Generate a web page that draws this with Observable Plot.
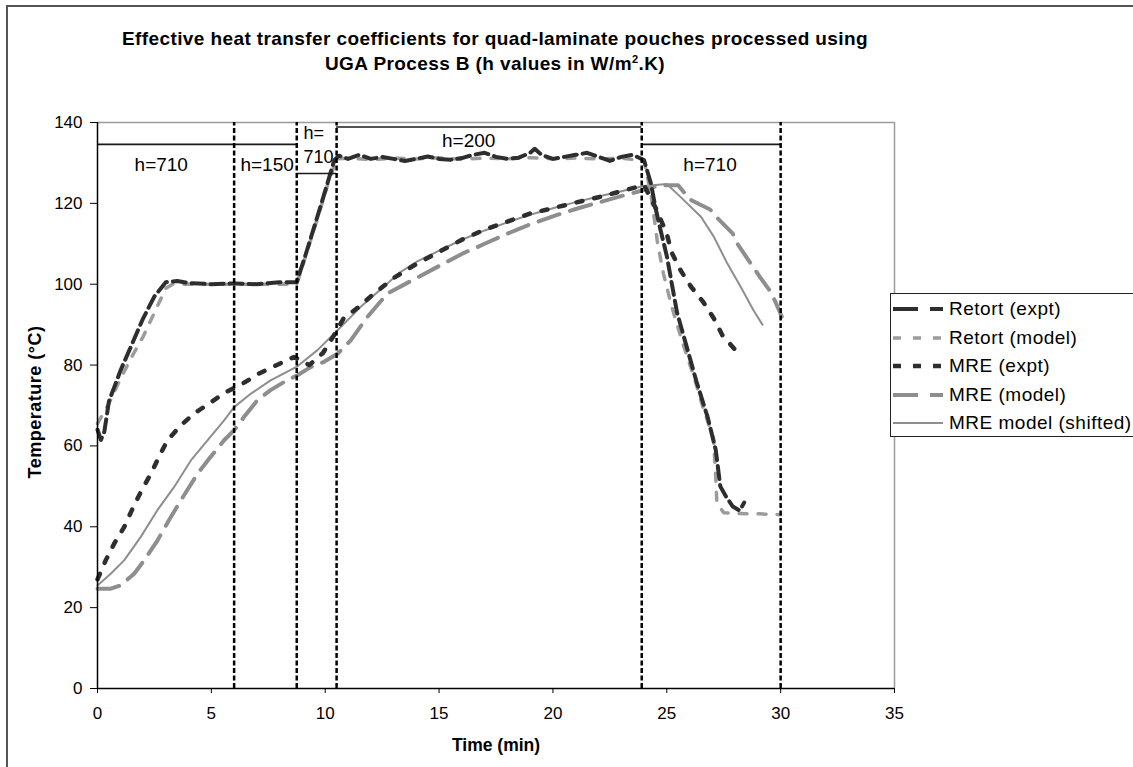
<!DOCTYPE html>
<html><head><meta charset="utf-8">
<script src="https://cdn.jsdelivr.net/npm/d3@7"></script>
<script src="https://cdn.jsdelivr.net/npm/@observablehq/plot@0.6"></script>
<style>
body{margin:0;background:#fff;font-family:"Liberation Sans",Arial,sans-serif;color:#000;}
#wrap{position:relative;width:1133px;height:767px;overflow:hidden;background:#fff;}
#frame{position:absolute;left:6px;top:5px;width:1200px;height:800px;border-left:2px solid #555;border-top:2px solid #555;}
#chart{position:absolute;left:0;top:0;}
#title{position:absolute;left:0;top:26px;width:990px;text-align:center;font-weight:bold;font-size:19px;letter-spacing:0.4px;line-height:25px;}
#title sup{font-size:11px;vertical-align:7px;line-height:0;}
#ytitle{position:absolute;left:35px;top:402px;transform:translate(-50%,-50%) rotate(-90deg);font-weight:bold;font-size:18px;letter-spacing:0.5px;white-space:nowrap;}
#xtitle{position:absolute;left:496px;top:745px;transform:translate(-50%,-50%);font-weight:bold;font-size:17.5px;white-space:nowrap;}
#legend{position:absolute;left:890px;top:293px;width:260px;height:144px;border:1.5px solid #222;background:#fff;box-sizing:border-box;padding-top:1px;}
.row{height:28.5px;display:flex;align-items:center;font-size:19px;letter-spacing:0.5px;white-space:nowrap;}
.row svg{margin-left:2px;margin-right:6px;flex:none;}
</style></head>
<body>
<div id="wrap">
  <div id="frame"></div>
  <div id="chart"></div>
  <div id="title">Effective heat transfer coefficients for quad-laminate pouches processed using<br>UGA Process B (h values in W/m<sup>2</sup>.K)</div>
  <div id="ytitle">Temperature (°C)</div>
  <div id="xtitle">Time (min)</div>
  <div id="legend"></div>
</div>
<script>
// ---- data ----
const seriesNames = ["Retort (expt)", "Retort (model)", "MRE (expt)", "MRE (model)", "MRE model (shifted)"];

const retortExptTime = [0,0.15,0.3,0.5,1,1.5,2,2.5,3,3.5,4,5,6,7,8,8.75,9.2,9.7,10.1,10.4,10.6,11,11.5,12,12.5,13,13.5,14,14.5,15,15.5,16,16.5,17,17.5,18,18.5,19,19.2,19.5,20,20.5,21,21.5,22,22.5,23,23.5,24,24.3,24.5,24.7,25,25.45,25.9,26.3,26.8,27.15,27.35,27.6,27.9,28.2,28.4];
const retortExptTemp = [64,61.5,63.5,71,78.5,85,91.5,97,100.5,100.8,100.3,100,100.2,100,100.5,100.5,108.4,117.5,125,130.7,131.8,131,132,131,131.5,131,130.5,131,131.6,131,130.8,131.2,132,132.5,131.5,131,131.3,132.5,133.5,132,131,131.5,132,132.5,131.5,130.5,131.5,132,130.7,125,119,114,107,93,84,76,67,59,50,47.5,45,44,46];

const retortModelTime = [0,0.5,1,1.5,2,2.5,3,3.3,4,5,6,7,8,8.75,9.2,9.7,10.1,10.5,11,12,13,14,15,16,17,18,19,20,21,22,23,24,24.3,24.6,24.85,25.2,25.7,26.2,26.6,27.05,27.15,27.2,27.5,28,29,30];
const retortModelTemp = [65.5,70.5,76.5,82,87,93,99,100,100,100,100,100,100,100,108,117,124.5,131,131.2,130.8,131.2,131,131.3,130.9,131.2,131,131.3,131,131.2,131,131.2,130.5,122.5,110,102.7,94.8,85.4,77,69.3,61.9,52.2,45.8,43.5,43.3,43.2,43];

const mreExptTime = [0,0.36,0.73,1.17,1.54,1.9,2.34,2.7,3.07,3.66,4.24,4.9,5.63,6.37,7.09,7.83,8.63,9.3,9.9,10.4,10.8,11.5,12,13,14,15,16,17,18,19,20,21,22,23,24,24.5,25,25.2,25.6,26.05,26.6,27.07,27.44,28,28.2];
const mreExptTemp = [27,31.7,35.8,39.9,44.5,48.6,53.1,57.3,61.4,65.1,68,70.5,73.3,75.4,77.9,79.9,82,80,83,87.5,91.5,94.5,97,101.5,105,108,111,113.5,115.5,117.5,118.8,120.2,121.5,123,124.5,119,112.5,108,103.5,99.5,95.6,91.5,87.4,83.8,82.5];

const mreModelTime = [0,0.58,1.02,1.61,2.05,2.63,3.22,3.8,4.39,4.97,5.56,6,6.44,7.02,7.6,8.19,8.78,9.36,9.95,10.54,11.12,11.85,12.73,14,15,16,17,18,19,20,21,22,23,24,24.7,25.5,26,26.9,27.2,27.9,28.1,28.7,29.1,29.6,30.05];
const mreModelTemp = [24.7,24.7,25.5,28.4,31.7,36.6,42.4,47.8,53.1,57.3,61.4,63.9,67.2,71.3,73.8,75.8,77.5,79.5,80.8,82.8,86.1,91.9,97.7,101.5,104.5,107.5,110,112.5,114.8,116.8,118.6,120.2,121.8,123.3,124.5,124.5,121,118.5,116.5,112.5,110,105,101.7,97.8,92];

const mreShiftTime = [0,0.58,1.17,1.9,2.63,3.36,4.1,4.83,5.56,6,6.73,7.6,8.78,9.66,10.54,11.56,12.73,13.3,14,15,16,17,18,19,20,21,22,23,24,25,25.6,26.5,27.07,27.66,28.25,28.8,29.2];
const mreShiftTemp = [25.5,28.4,31.7,37.5,44.1,49.8,56.4,61.4,66.3,69.6,72.9,76.2,79.7,83.7,88.6,94.4,100.2,103,105.5,108.3,111,113.3,115.3,117.2,118.8,120.3,121.7,123,124.3,124.8,121.6,116.7,111.7,105.1,99.3,93.6,90];

// process stage boundaries (min) and h annotations
const stageBounds = [6, 8.75, 10.5, 23.9, 30];
const hLineStart = [0, 8.75, 10.5, 23.9];
const hLineEnd   = [8.75, 10.5, 23.9, 30];
const hLineTemp  = [134.6, 127.4, 138.9, 134.6];
const hLabelText = ["h=710", "h=150", "h=200", "h=710"];
const hLabelTime = [2.8, 7.45, 16.3, 26.9];
const hLabelTemp = [129.4, 129.4, 135.4, 129.4];
const hSplitText = ["h=\n710"];
const hSplitTime = [9.05];
const hSplitTemp = [134.9];

const xTicks = [0,5,10,15,20,25,30,35];
const yTicks = [0,20,40,60,80,100,120,140];

// ---- styles ----
const styles = {
  "Retort (expt)":       {stroke:"#2e2e2e", strokeWidth:4,   dash:"13,6"},
  "Retort (model)":      {stroke:"#9c9c9c", strokeWidth:3.5, dash:"8,11"},
  "MRE (expt)":          {stroke:"#2e2e2e", strokeWidth:4.5, dash:"6,12"},
  "MRE (model)":         {stroke:"#8e8e8e", strokeWidth:4,   dash:"22,11"},
  "MRE model (shifted)": {stroke:"#8e8e8e", strokeWidth:2,   dash:null}
};

const toRows = (t, v) => t.map((d, i) => ({time: d, temp: v[i]}));
const series = {
  "Retort (expt)": toRows(retortExptTime, retortExptTemp),
  "Retort (model)": toRows(retortModelTime, retortModelTemp),
  "MRE (expt)": toRows(mreExptTime, mreExptTemp),
  "MRE (model)": toRows(mreModelTime, mreModelTemp),
  "MRE model (shifted)": toRows(mreShiftTime, mreShiftTemp)
};
const drawOrder = ["MRE model (shifted)", "MRE (model)", "Retort (model)", "Retort (expt)", "MRE (expt)"];

const hLines = hLineStart.map((d, i) => ({x1: d, x2: hLineEnd[i], y: hLineTemp[i]}));
const hLabels = hLabelText.map((d, i) => ({text: d, x: hLabelTime[i], y: hLabelTemp[i]}));
const hSplit = hSplitText.map((d, i) => ({text: d, x: hSplitTime[i], y: hSplitTemp[i]}));

const lineMarks = drawOrder.map(name => {
  const s = styles[name];
  return Plot.line(series[name], {x: "time", y: "temp", stroke: s.stroke, strokeWidth: s.strokeWidth,
    strokeDasharray: s.dash || undefined, strokeLinejoin: "round", curve: "linear"});
});

const chart = Plot.plot({
  width: 1133,
  height: 767,
  marginLeft: 97,
  marginRight: 239,
  marginTop: 122,
  marginBottom: 79,
  style: {fontFamily: "'Liberation Sans', Arial, sans-serif", fontSize: "17px", color: "#000", background: "transparent", overflow: "visible"},
  x: {domain: [0, 35]},
  y: {domain: [0, 140]},
  marks: [
    Plot.ruleY([140], {stroke: "#9a9a9a", strokeWidth: 1.5}),
    Plot.ruleX([35], {stroke: "#9a9a9a", strokeWidth: 1.5}),
    ...lineMarks,
    Plot.ruleY(hLines, {y: "y", x1: "x1", x2: "x2", stroke: "#1a1a1a", strokeWidth: 1.6}),
    Plot.ruleX(stageBounds, {y1: 0, y2: 140, stroke: "#000", strokeWidth: 2.5, strokeDasharray: "5,2.5"}),
    Plot.text(hLabels, {x: "x", y: "y", text: "text", fontSize: 19, fill: "#000", textAnchor: "middle"}),
    Plot.text(hSplit, {x: "x", y: "y", text: "text", fontSize: 18, fill: "#000", textAnchor: "start", lineHeight: 1.35}),
    Plot.ruleX([0], {stroke: "#000", strokeWidth: 1.5}),
    Plot.ruleY([0], {stroke: "#000", strokeWidth: 1.5}),
    Plot.axisY({ticks: yTicks, tickSize: 7, tickPadding: 8, label: null, fontSize: 17, stroke: "#000"}),
    Plot.axisX({ticks: xTicks, tickSize: 5, tickPadding: 13, label: null, fontSize: 17, stroke: "#000"})
  ]
});
document.getElementById("chart").appendChild(chart);

// ---- legend ----
const legend = document.getElementById("legend");
seriesNames.forEach(name => {
  const s = styles[name];
  const row = document.createElement("div");
  row.className = "row";
  const svgNS = "http://www.w3.org/2000/svg";
  const svg = document.createElementNS(svgNS, "svg");
  svg.setAttribute("width", 50); svg.setAttribute("height", 10);
  const ln = document.createElementNS(svgNS, "line");
  ln.setAttribute("x1", 0); ln.setAttribute("x2", 50); ln.setAttribute("y1", 5); ln.setAttribute("y2", 5);
  ln.setAttribute("stroke", s.stroke);
  ln.setAttribute("stroke-width", s.strokeWidth);
  if (s.dash) ln.setAttribute("stroke-dasharray", name === "Retort (expt)" || name === "MRE (model)" ? "25,12" : "8,12");
  svg.appendChild(ln);
  row.appendChild(svg);
  const span = document.createElement("span");
  span.textContent = name;
  row.appendChild(span);
  legend.appendChild(row);
});
</script>
</body></html>
